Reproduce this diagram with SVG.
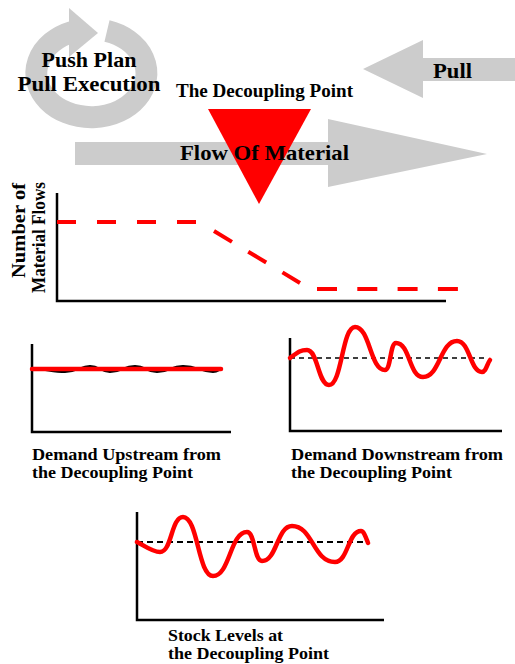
<svg xmlns="http://www.w3.org/2000/svg" width="515" height="664" viewBox="0 0 515 664">
<style>
text{font-family:"Liberation Serif","Times New Roman",serif;font-weight:bold;fill:#000}
.big{font-size:22px}
.mid{font-size:18px}
.lbl{font-size:17px}
.gray{fill:#cccccc}
.axis{stroke:#000;stroke-width:2.5;fill:none}
.redw{stroke:#ff0000;stroke-width:4.5;fill:none;stroke-linecap:round;stroke-linejoin:round}
.rdash{stroke:#ff0000;stroke-width:4;fill:none}
</style>
<rect width="515" height="664" fill="#fff"/>
<g id="cycle">
<path d="M107,31 A55,44 0 1 1 72,32" fill="none" stroke="#cccccc" stroke-width="22"/>
<polygon class="gray" points="69,8 98,33 69,57"/>
<text class="big" x="89" y="67" text-anchor="middle">Push Plan</text>
<text class="big" x="89" y="91" text-anchor="middle" textLength="143" lengthAdjust="spacingAndGlyphs">Pull Execution</text>
</g>
<g id="pull">
<polygon class="gray" points="363,69 423,40 423,58 515,58 515,81 423,81 423,98"/>
<text class="big" x="433" y="78" textLength="39" lengthAdjust="spacingAndGlyphs">Pull</text>
</g>
<g id="flow">
<polygon class="gray" points="75,142 328,142 328,119 487,154 328,187 328,165 75,165"/>
</g>
<g id="decoupling">
<polygon points="208,109 311,109 259,204" fill="#ff0000"/>
<text class="mid" x="176" y="97" textLength="177" lengthAdjust="spacingAndGlyphs">The Decoupling Point</text>
</g>
<text class="big" x="180" y="160" textLength="169" lengthAdjust="spacingAndGlyphs">Flow Of Material</text>
<g id="chart-flows">
<path class="axis" d="M57,193 V301 H446"/>
<line class="rdash" x1="57" y1="222" x2="197" y2="222" stroke-dasharray="19 21"/>
<line class="rdash" x1="214" y1="231" x2="300" y2="283" stroke-dasharray="21 19"/>
<line class="rdash" x1="317" y1="289" x2="458" y2="289" stroke-dasharray="20 20.3"/>
<text class="mid" transform="translate(25,230.5) rotate(-90)" text-anchor="middle" textLength="95" lengthAdjust="spacingAndGlyphs">Number of</text>
<text class="mid" transform="translate(45,237.5) rotate(-90)" text-anchor="middle" textLength="111" lengthAdjust="spacingAndGlyphs">Material Flows</text>
</g>
<g id="chart-upstream">
<path class="axis" d="M32,344 V432 H231"/>
<path d="M32,369 C45,369 52,372 65,372 C78,372 80,366 90,366 C100,366 100,372 110,372 C122,372 123,366 135,366 C146,366 146,372 157,372 C170,372 170,366 183,366 C198,366 200,372 213,372 C217,372 219,370 221,369" fill="none" stroke="#000" stroke-width="2"/>
<line x1="32" y1="369" x2="221" y2="369" stroke="#ff0000" stroke-width="4.5" stroke-linecap="round"/>
<text class="lbl" x="32" y="460" textLength="189" lengthAdjust="spacingAndGlyphs">Demand Upstream from</text>
<text class="lbl" x="32" y="478" textLength="161" lengthAdjust="spacingAndGlyphs">the Decoupling Point</text>
</g>
<g id="chart-downstream">
<path class="axis" d="M290,338 V431 H502"/>
<line x1="290" y1="358" x2="487" y2="358" stroke="#000" stroke-width="1.3" stroke-dasharray="5 4"/>
<path class="redw" d="M290,358 C298,352 300,350 307,350 C318,350 318,385 329,385 C342,385 342,327 355,327 C370,327 370,370 385,370 C391,370 390,343 396,343 C410,343 409,377 423,377 C440,377 440,341 457,341 C470,341 470,372 482,372 C486,372 487,364 490,360"/>
<text class="lbl" x="291" y="460" textLength="212" lengthAdjust="spacingAndGlyphs">Demand Downstream from</text>
<text class="lbl" x="291" y="478" textLength="161" lengthAdjust="spacingAndGlyphs">the Decoupling Point</text>
</g>
<g id="chart-stock">
<path class="axis" d="M137,512 V620 H384"/>
<line x1="137" y1="542" x2="368" y2="542" stroke="#000" stroke-width="2" stroke-dasharray="6 4"/>
<path class="redw" d="M137,542 C145,546 152,552 160,552 C172,552 171,517 183,517 C198,517 198,576 213,576 C230,576 230,532 247,532 C255,532 254,561 262,561 C277,561 277,526 292,526 C313,526 313,562 335,562 C348,562 348,531 361,531 C364,531 366,538 368,543"/>
<text class="lbl" x="168" y="641" textLength="115" lengthAdjust="spacingAndGlyphs">Stock Levels at</text>
<text class="lbl" x="168" y="659" textLength="161" lengthAdjust="spacingAndGlyphs">the Decoupling Point</text>
</g>
</svg>
